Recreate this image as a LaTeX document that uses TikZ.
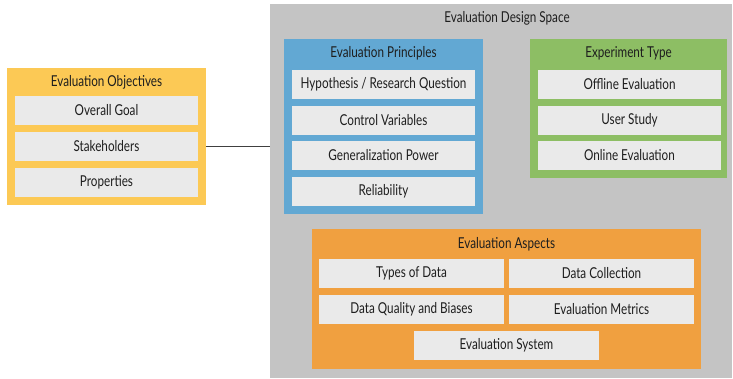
\documentclass[tikz,border=0pt]{standalone}
\usepackage{fontspec}
\setmainfont{Lato}[FakeStretch=0.78]
\definecolor{cspace}{HTML}{C4C4C4}
\definecolor{cinner}{HTML}{EAEAEA}
\definecolor{cyellow}{HTML}{FCC955}
\definecolor{cblue}{HTML}{62A8D3}
\definecolor{cgreen}{HTML}{8DBE64}
\definecolor{corange}{HTML}{F0A040}
\definecolor{ctext}{HTML}{1E1E1E}
\definecolor{cline}{HTML}{404040}
\begin{document}
\begin{tikzpicture}[x=1pt,y=-1pt,
  lbl/.style={font=\fontsize{15}{17}\selectfont, text=ctext, inner sep=0pt},
  group/.style={inner sep=0pt, draw=none},
  item/.style={lbl, fill=cinner, minimum height=29pt, minimum width=183pt},
  wide/.style={item, minimum width=185pt}]
\useasboundingbox (0,0) rectangle (733,379);
% design space
\node[group, fill=cspace, minimum width=462pt, minimum height=374pt] (space) at (501,191) {};
\node[lbl] (spacet) at (507,18.5) {Evaluation Design Space};
% objectives
\node[group, fill=cyellow, minimum width=199pt, minimum height=137pt] (yellow) at (106.5,136.5) {};
\node[lbl] (yellowt) at (106.5,82.5) {Evaluation Objectives};
\node[item] (goal) at (106.5,110.5) {Overall Goal};
\node[item] (stake) at (106.5,146.5) {Stakeholders};
\node[item] (prop) at (106.5,182.5) {Properties};
% principles
\node[group, fill=cblue, minimum width=199pt, minimum height=175pt] (blue) at (383.5,126.5) {};
\node[lbl] (bluet) at (383.5,53.5) {Evaluation Principles};
\node[item] (hyp) at (383.5,84.5) {Hypothesis / Research Question};
\node[item] (ctrl) at (383.5,120.3) {Control Variables};
\node[item] (gen) at (383.5,155.5) {Generalization Power};
\node[item] (rel) at (383.5,191.3) {Reliability};
% experiment type
\node[group, fill=cgreen, minimum width=197pt, minimum height=139pt] (green) at (628.5,108.5) {};
\node[lbl] (greent) at (628.5,53.5) {Experiment Type};
\node[item] (off) at (629.5,84.5) {Offline Evaluation};
\node[item] (user) at (629.5,120.3) {User Study};
\node[item] (on) at (629.5,155.5) {Online Evaluation};
% aspects
\node[group, fill=corange, minimum width=389pt, minimum height=140pt] (orange) at (506.5,299) {};
\node[lbl] (oranget) at (506.5,244.5) {Evaluation Aspects};
\node[wide] (types) at (411.5,273.5) {Types of Data};
\node[wide] (coll) at (601.5,273.5) {Data Collection};
\node[wide] (qual) at (411.5,309.5) {Data Quality and Biases};
\node[wide] (metr) at (601.5,309.5) {Evaluation Metrics};
\node[wide] (sys) at (506.5,345.5) {Evaluation System};
% connector
\draw[cline, line width=1.6pt] (stake -| yellow.east) -- (stake -| space.west);
\end{tikzpicture}
\end{document}
